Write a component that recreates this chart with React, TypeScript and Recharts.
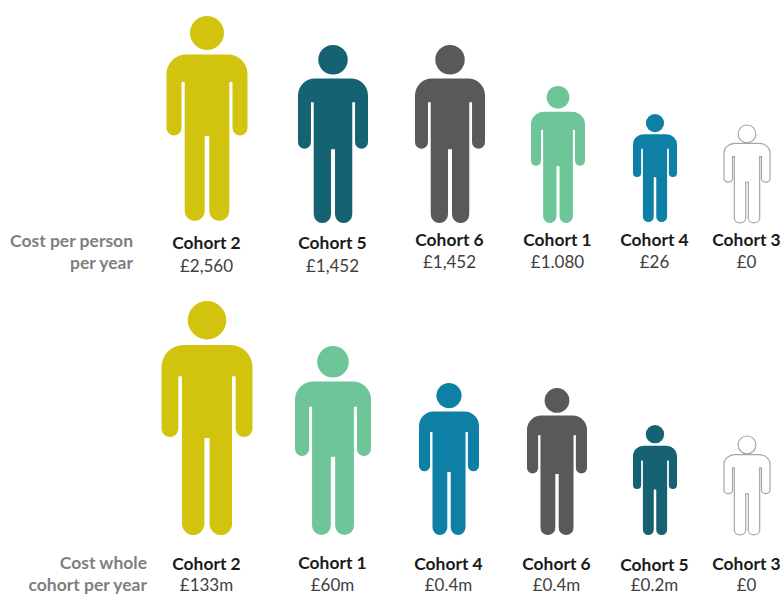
import { BarChart, Bar, XAxis, YAxis } from 'recharts'

const topCohorts = ['Cohort 2', 'Cohort 5', 'Cohort 6', 'Cohort 1', 'Cohort 4', 'Cohort 3']
const topCosts = ['£2,560', '£1,452', '£1,452', '£1.080', '£26', '£0']
const topHeights = [205, 178, 178, 137, 108, 98]

const bottomCohorts = ['Cohort 2', 'Cohort 1', 'Cohort 4', 'Cohort 6', 'Cohort 5', 'Cohort 3']
const bottomCosts = ['£133m', '£60m', '£0.4m', '£0.4m', '£0.2m', '£0']
const bottomHeights = [234, 189, 152, 147, 110, 99]

const COLORS: Record<string, string> = {
  'Cohort 1': '#6EC698',
  'Cohort 2': '#D2C40E',
  'Cohort 3': '#FFFFFF',
  'Cohort 4': '#0F80A5',
  'Cohort 5': '#156272',
  'Cohort 6': '#595959',
}

const FONT = 'Lato, sans-serif'

// columns in the original are not evenly spaced, so each row carries small layout tweaks
const TOP_LAYOUT = {
  dx: [0, 18, 27, 27, 16, 0],
  widths: [81, 70, 70, 54, 44, 46],
  lift: [2, 0, 0, 0, 1, 0],
  rowDy: 18,
  nameDy: [0, 0, -3, -3, -3, -3],
  costDy: [0, 0, -4, -4, -4, -4],
}
const BOTTOM_LAYOUT = {
  dx: [0, 18, 26, 26, 16, 0],
  widths: [91, 76, 60, 60, 44, 46],
  lift: [0, 0, 0, 0, 0, 0],
  rowDy: 27,
  nameDy: [0, -1, 0, 0, 1, 0],
  // pulled up a little so the last line stays inside the picture
  costDy: [-2, -2, -2, -2, -2, -2],
}

type Layout = typeof TOP_LAYOUT

const buildRows = (names: string[], costs: string[], heights: number[]) =>
  names.map((name, i) => ({ name, cost: costs[i], height: heights[i] }))

// person drawn in a 81 x 205 box, origin at top centre
function Person({ props, layout }: { props: any; layout: Layout }) {
  const { x, y, width, height, index, payload } = props
  const w = layout.widths[index]
  const cx = x + width / 2 + layout.dx[index]
  const top = y - layout.lift[index]
  const sx = w / 81
  const sy = height / 205
  const px = (v: number) => (cx + v * sx).toFixed(2)
  const py = (v: number) => (top + v * sy).toFixed(2)
  const arc = (r: number, ex: number, ey: number) =>
    `A${(r * sx).toFixed(2)} ${(r * sy).toFixed(2)} 0 0 0 ${px(ex)} ${py(ey)}`
  const d = [
    `M${px(-21)} ${py(38.5)}`,
    arc(19.5, -40.5, 58),
    `L${px(-40.5)} ${py(112)}`,
    arc(7.5, -25.5, 112),
    `L${px(-25.5)} ${py(66)}`,
    `L${px(-22.3)} ${py(66)}`,
    `L${px(-22.3)} ${py(195)}`,
    arc(10, -2.3, 195),
    `L${px(-2.3)} ${py(120)}`,
    `L${px(2.3)} ${py(120)}`,
    `L${px(2.3)} ${py(195)}`,
    arc(10, 22.3, 195),
    `L${px(22.3)} ${py(66)}`,
    `L${px(25.5)} ${py(66)}`,
    `L${px(25.5)} ${py(112)}`,
    arc(7.5, 40.5, 112),
    `L${px(40.5)} ${py(58)}`,
    arc(19.5, 21, 38.5),
    'Z',
  ].join(' ')
  const fill = COLORS[payload.name]
  const outlined = payload.name === 'Cohort 3'
  const stroke = outlined ? '#A6A6A6' : 'none'
  const headR = (17 * (sx + sy)) / 2
  return (
    <g fill={fill} stroke={stroke} strokeWidth={outlined ? 1.2 : 0}>
      <circle cx={cx} cy={top + headR} r={headR} />
      <path d={d} />
    </g>
  )
}

function CohortTick({ x, y, index, payload, layout, costs }: any) {
  const cx = x + layout.dx[index] - 0.5
  const base = y + layout.rowDy
  return (
    <g fontFamily={FONT} textAnchor="middle">
      <text x={cx} y={base + layout.nameDy[index]} fontSize={17.4} fontWeight={700} fill="#1A1A1A">{payload.value}</text>
      <text x={cx} y={base + 23 + layout.costDy[index]} fontSize={17} fill="#404040">{costs[index]}</text>
    </g>
  )
}

function Row({ rows, costs, layout, plotHeight, chartHeight, caption, captionX, captionY }: any) {
  return (
    <BarChart
      width={801}
      height={chartHeight}
      data={rows}
      margin={{ top: 0, right: 0, bottom: 0, left: 153 }}
      barCategoryGap={0}
    >
      <XAxis
        dataKey="name"
        interval={0}
        axisLine={false}
        tickLine={false}
        height={chartHeight - plotHeight}
        tick={(p: any) => <CohortTick {...p} layout={layout} costs={costs} />}
      />
      <YAxis hide domain={[0, plotHeight]} />
      <Bar
        dataKey="height"
        isAnimationActive={false}
        shape={(p: any) => <Person props={p} layout={layout} />}
      />
      <text x={captionX} y={captionY} textAnchor="end" fontFamily={FONT} fontSize={17.5} fontWeight={700} fill="#7F7F7F">
        {caption[0]}
      </text>
      <text x={captionX} y={captionY + 22} textAnchor="end" fontFamily={FONT} fontSize={17.5} fontWeight={700} fill="#7F7F7F">
        {caption[1]}
      </text>
    </BarChart>
  )
}

export default function App() {
  return (
    <div style={{ position: 'absolute', left: 0, top: 0, width: 783, height: 595, overflow: 'hidden', background: '#fff' }}>
      <div style={{ position: 'absolute', left: 0, top: 0 }}>
        <Row
          rows={buildRows(topCohorts, topCosts, topHeights)}
          costs={topCosts}
          layout={TOP_LAYOUT}
          plotHeight={223}
          chartHeight={285}
          caption={['Cost per person', 'per year']}
          captionX={133}
          captionY={247}
        />
      </div>
      <div style={{ position: 'absolute', left: 0, top: 295 }}>
        <Row
          rows={buildRows(bottomCohorts, bottomCosts, bottomHeights)}
          costs={bottomCosts}
          layout={BOTTOM_LAYOUT}
          plotHeight={240}
          chartHeight={300}
          caption={['Cost whole', 'cohort per year']}
          captionX={147}
          captionY={274}
        />
      </div>
    </div>
  )
}
